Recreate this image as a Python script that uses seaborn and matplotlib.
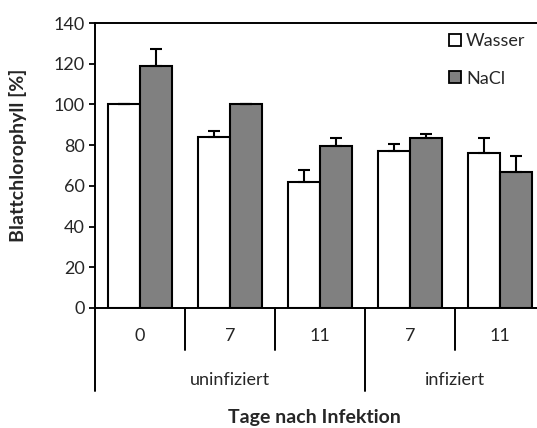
import matplotlib
matplotlib.use("Agg")
import matplotlib.pyplot as plt
import matplotlib.transforms as mtransforms
from matplotlib.patches import Patch
import numpy as np
import pandas as pd
import seaborn as sns

# Chlorophyll content of leaves, relative to the untreated control at day 0
groups = ["uninfiziert", "uninfiziert", "uninfiziert", "infiziert", "infiziert"]
days = ["0", "7", "11", "7", "11"]
wasser = [100.0, 84.0, 62.0, 77.3, 76.0]
wasser_err = [0.0, 3.0, 6.0, 3.2, 7.3]
nacl = [119.0, 100.0, 79.7, 83.7, 66.8]
nacl_err = [8.0, 0.0, 3.7, 1.8, 7.7]
treatments = ["Wasser", "NaCl"]
colors = {"Wasser": "#ffffff", "NaCl": "#808080"}

keys = [f"{g} {d}" for g, d in zip(groups, days)]
df = pd.DataFrame({
    "key": keys * 2,
    "Behandlung": ["Wasser"] * 5 + ["NaCl"] * 5,
    "wert": wasser + nacl,
    "fehler": wasser_err + nacl_err,
})

FS = 13
FS_BOLD = 14

sns.set_theme(style="white")
plt.rcParams["font.family"] = ["Lato", "DejaVu Sans"]

fig = plt.figure(figsize=(5.37, 4.28), dpi=100)
ax = fig.add_axes([95 / 537, 1 - 308 / 428, 442 / 537, 285 / 428])

sns.barplot(data=df, x="key", y="wert", hue="Behandlung", order=keys,
            hue_order=treatments, palette=colors, width=0.71, gap=0,
            edgecolor="black", linewidth=1.5, errorbar=None, legend=False,
            ax=ax)

# upper error bars only, placed at each bar's centre
for patch, (_, row) in zip(ax.patches, df.iterrows()):
    cx = patch.get_x() + patch.get_width() / 2
    ax.errorbar(cx, row["wert"], yerr=[[0], [row["fehler"]]], fmt="none",
                ecolor="black", elinewidth=1.5, capsize=4, capthick=1.5,
                zorder=1)

ax.set_ylim(0, 140)
ax.set_yticks(np.arange(0, 141, 20))
ax.set_xlim(-0.5, 4.5 - 8 / 90)
ax.set_xticks([])
ax.set_xlabel("")
ax.set_ylabel("Blattchlorophyll [%]", fontsize=FS_BOLD, fontweight="bold")
ax.yaxis.set_label_coords(-68 / 442, (308 - 155) / 285)
ax.tick_params(axis="y", left=True, length=4.5, width=1.3, pad=3,
               labelsize=FS, color="black")
for side in ["left", "top", "bottom"]:
    ax.spines[side].set_visible(True)
    ax.spines[side].set_color("black")
    ax.spines[side].set_linewidth(1.4)
ax.spines["right"].set_visible(False)

# two-level category axis below the bars
trans = mtransforms.blended_transform_factory(ax.transData, fig.transFigure)
short_y = 1 - 350 / 428
long_y = 1 - 391 / 428
base_y = 1 - 308 / 428
for i in range(len(keys) + 1):
    pos = i - 0.5
    new_group = i == 0 or i == len(keys) or groups[i] != groups[i - 1]
    ax.plot([pos, pos], [base_y, long_y if new_group else short_y],
            color="black", lw=1.4, transform=trans, clip_on=False)
for i, d in enumerate(days):
    ax.text(i, 1 - 336 / 428, d, transform=trans, ha="center", va="center",
            fontsize=FS)
start = 0
for i in range(1, len(groups) + 1):
    if i == len(groups) or groups[i] != groups[start]:
        ax.text((start + i - 1) / 2, 1 - 380 / 428, groups[start],
                transform=trans, ha="center", va="center", fontsize=FS)
        start = i
fig.text(314 / 537, 1 - 417 / 428, "Tage nach Infektion", ha="center",
         va="center", fontsize=FS_BOLD, fontweight="bold")

handles = [Patch(facecolor=colors[t], edgecolor="black", linewidth=1.3)
           for t in treatments]
fig.legend(handles, treatments, loc="upper left",
           bbox_to_anchor=(449 / 537, 1 - 33 / 428), frameon=False,
           fontsize=FS, handlelength=0.65, handleheight=0.65,
           handletextpad=0.3, labelspacing=1.2, borderpad=0,
           borderaxespad=0)

fig.savefig("out.png", dpi=100)
